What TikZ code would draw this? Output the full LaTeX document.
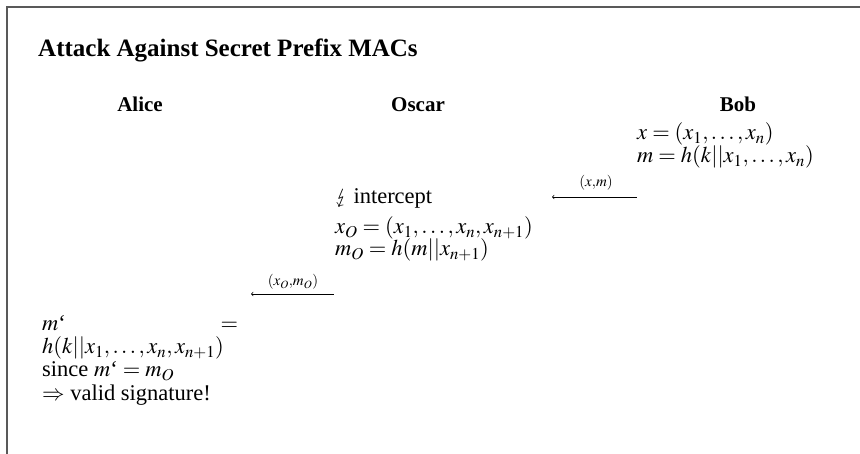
\documentclass[tikz,border=0pt]{standalone}
\usepackage{mathptmx}
\usepackage[no-math]{fontspec}
\setmainfont{Liberation Serif}
\usepackage{stmaryrd}
\begin{document}
\begin{tikzpicture}[x=1pt,y=-1pt,
  txt/.style={inner sep=0pt, anchor=base west, font=\fontsize{22.5}{23}\selectfont},
  who/.style={inner sep=0pt, anchor=base, font=\fontsize{21}{23}\selectfont\bfseries},
  lbl/.style={inner sep=0pt, anchor=base, font=\fontsize{15}{17}\selectfont},
  msg/.style={line width=0.7pt, <-, >=to}]
\useasboundingbox (0,0) rectangle (860,454);
\draw[line width=1.3pt, black!65] (7,454) -- (7,7) -- (860,7);
\node[inner sep=0pt, anchor=base west, font=\fontsize{25}{29}\selectfont\bfseries] (title) at (38,57) {Attack Against Secret Prefix MACs};
\node[who] (alice) at (140,112) {Alice};
\node[who] (oscar) at (418,112) {Oscar};
\node[who] (bob) at (738,112) {Bob};
\node[txt] (b1) at (637,140) {$x=(x_1,\ldots,x_n)$};
\node[txt] (b2) at (637,163) {$m=h(k||x_1,\ldots,x_n)$};
\coordinate (m1s) at (637,197);
\coordinate (m1e) at (552,197);
\draw[msg] (m1e) -- (m1s);
\node[lbl] (l1) at (596,187) {$(x{,}m)$};
\node[txt] (o1) at (335,204) {$\lightning$ intercept};
\node[txt] (o2) at (335,234) {$x_O=(x_1,\ldots,x_n,x_{n+1})$};
\node[txt] (o3) at (335,256) {$m_O=h(m||x_{n+1})$};
\coordinate (m2s) at (334,294);
\coordinate (m2e) at (251,294);
\draw[msg] (m2e) -- (m2s);
\node[lbl] (l2) at (293,286) {$(x_O{,}m_O)$};
\node[txt] (a1) at (42,331) {\makebox[196pt][s]{$m$\textquoteleft\hfill$=$}};
\node[txt] (a2) at (42,354) {$h(k||x_1,\ldots,x_n,x_{n+1})$};
\node[txt] (a3) at (42,377) {since $m$\textquoteleft${}=m_O$};
\node[txt] (a4) at (42,400) {$\Rightarrow$ valid signature!};
\end{tikzpicture}
\end{document}
